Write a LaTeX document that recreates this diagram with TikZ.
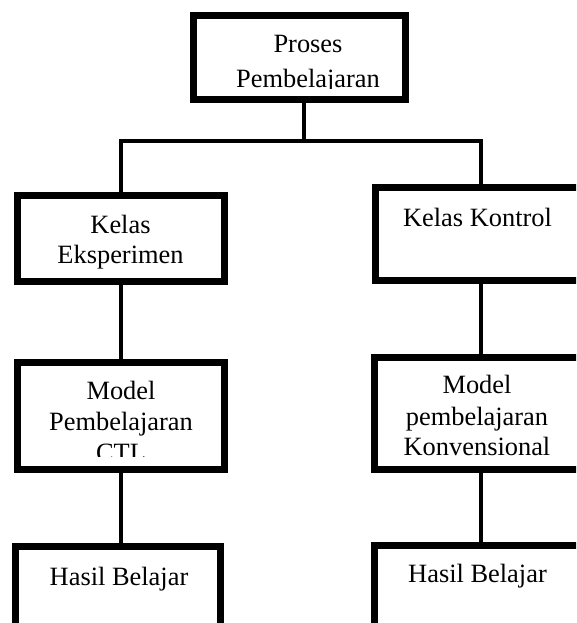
\documentclass[tikz,border=0pt]{standalone}
\usepackage{fontspec}
\setmainfont{Liberation Serif}
\usetikzlibrary{calc}
\tikzset{
	kotak/.style={draw, rectangle, line width=6.8pt, inner sep=0pt},
	garis/.style={line width=3.2pt},
	teks/.style={anchor=base, inner sep=0pt, font=\fontsize{26.4}{31}\selectfont},
}

\begin{document}
\begin{tikzpicture}[x=1pt, y=-1pt]
		%%%%% START %%%%%
		\clip (0, 0) rectangle (576, 623);
		\fill[white] (0, 0) rectangle (576, 623);
		
		% kotak
		\node[kotak, minimum width=212.2pt, minimum height=84.2pt] (proses) at (299.5, 57.5) {};
		\node[kotak, minimum width=207.2pt, minimum height=86.2pt] (eksperimen) at (121, 238.5) {};
		\node[kotak, minimum width=211.2pt, minimum height=93.2pt] (kontrol) at (481, 234) {};
		\node[kotak, minimum width=207.2pt, minimum height=107.2pt] (ctl) at (121, 416) {};
		\node[kotak, minimum width=213.2pt, minimum height=112.2pt] (konvensional) at (481, 413.5) {};
		\node[kotak, minimum width=205.2pt, minimum height=90.2pt] (hasilA) at (118, 591.5) {};
		\node[kotak, minimum width=213.2pt, minimum height=91.2pt] (hasilB) at (481, 591) {};
		
		% garis penghubung
		\coordinate (cabang) at (304, 141);
		\draw[garis] (cabang |- proses.south) -- (cabang);
		\draw[garis] (eksperimen.north) |- (cabang) -| (kontrol.north);
		\draw[garis] (eksperimen.south) -- (ctl.north);
		\draw[garis] (ctl.south) -- (ctl.south |- hasilA.north);
		\draw[garis] (kontrol.south) -- (konvensional.north);
		\draw[garis] (konvensional.south) -- (hasilB.north);
		
		% teks
		\node[teks] (prosesA) at (308, 53) {Proses};
		\begin{scope}
			\clip (200, 60) rectangle (405, 89);
			\node[teks] (prosesB) at (308, 88) {Pembelajaran};
		\end{scope}
		
		\node[teks] (eksperimenA) at (120.5, 233) {Kelas};
		\node[teks] (eksperimenB) at (120.5, 263) {Eksperimen};
		
		\node[teks] (kontrolA) at (477.5, 226) {Kelas Kontrol};
		
		\node[teks] (ctlA) at (121, 399) {Model};
		\node[teks] (ctlB) at (121, 430) {Pembelajaran};
		\begin{scope}
			\clip (20, 436) rectangle (222, 456.7);
			\node[teks] (ctlC) at (121, 461) {CTL};
		\end{scope}
		
		\node[teks] (konvensionalA) at (477, 393) {Model};
		\node[teks] (konvensionalB) at (477, 425) {pembelajaran};
		\node[teks] (konvensionalC) at (477, 455) {Konvensional};
		
		\node[teks] (hasilAteks) at (119, 585) {Hasil Belajar};
		\node[teks] (hasilBteks) at (477.5, 582) {Hasil Belajar};
		
		%%%%% END %%%%%
\end{tikzpicture}
\end{document}
